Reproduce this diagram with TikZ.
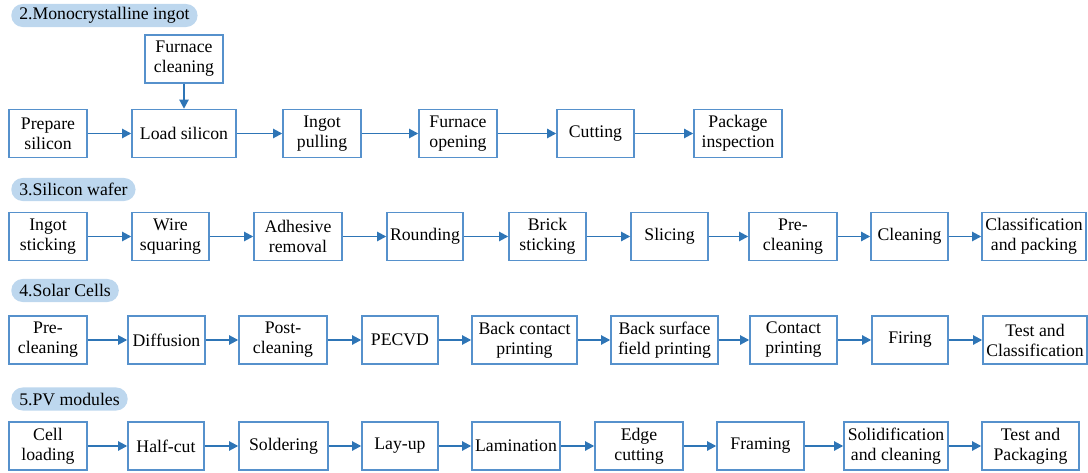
\documentclass[tikz,border=0pt]{standalone}
\usepackage{fontspec}
\setmainfont{Liberation Serif}
\usetikzlibrary{arrows.meta}
\definecolor{boxblue}{RGB}{86,145,204}
\definecolor{arrowblue}{RGB}{46,117,182}
\definecolor{pillblue}{RGB}{189,215,238}
\begin{document}
\begin{tikzpicture}[x=0.025cm,y=-0.025cm,
    font=\fontsize{12.6}{14.2}\selectfont,
    box/.style={draw=boxblue, line width=1pt, minimum height=1.2cm, minimum width=#1*0.25mm, align=center, inner sep=1pt},
    tag/.style={fill=pillblue, rounded corners=2.85mm, minimum height=5.75mm, inner xsep=2mm, inner ysep=0pt, anchor=west},
    flow/.style={-{Triangle[length=2.3mm,width=2.3mm]}, arrowblue, line width=1.4pt}]
    \useasboundingbox (0,0) rectangle (1088,473);

    \node[tag] (ingot) at (11,15.5) {2.Monocrystalline ingot};
    \node[box=78] (fclean) at (184,59) {Furnace\\cleaning};
    \node[box=78] (prep) at (48,133.5) {Prepare\\silicon};
    \node[box=104] (load) at (184,133.5) {Load silicon};
    \node[box=78] (pull) at (322,133.5) {Ingot\\pulling};
    \node[box=78] (fopen) at (458,133.5) {Furnace\\opening};
    \node[box=77] (cut) at (595.5,133.5) {Cutting};
    \node[box=88] (pinsp) at (738,133.5) {Package\\inspection};
    \draw[flow] (fclean) -- (load);
    \draw[flow] (prep) -- (load);
    \draw[flow] (load) -- (pull);
    \draw[flow] (pull) -- (fopen);
    \draw[flow] (fopen) -- (cut);
    \draw[flow] (cut) -- (pinsp);

    \node[tag] (wafer) at (11,189.5) {3.Silicon wafer};
    \node[box=78] (stick) at (48,236.5) {Ingot\\sticking};
    \node[box=77] (wire) at (170.5,236.5) {Wire\\squaring};
    \node[box=88] (adh) at (298,236.5) {Adhesive\\removal};
    \node[box=76] (round) at (425,236.5) {Rounding};
    \node[box=77] (brick) at (547.5,236.5) {Brick\\sticking};
    \node[box=77] (slice) at (669.5,236.5) {Slicing};
    \node[box=88] (wpre) at (793,236.5) {Pre-\\cleaning};
    \node[box=77] (wclean) at (909.5,236.5) {Cleaning};
    \node[box=104] (classp) at (1034,236.5) {Classification\\and packing};
    \draw[flow] (stick) -- (wire);
    \draw[flow] (wire) -- (adh);
    \draw[flow] (adh) -- (round);
    \draw[flow] (round) -- (brick);
    \draw[flow] (brick) -- (slice);
    \draw[flow] (slice) -- (wpre);
    \draw[flow] (wpre) -- (wclean);
    \draw[flow] (wclean) -- (classp);

    \node[tag] (cells) at (11,290.5) {4.Solar Cells};
    \node[box=78] (cpre) at (48,340) {Pre-\\cleaning};
    \node[box=77] (diff) at (166.5,340) {Diffusion};
    \node[box=88] (cpost) at (283,340) {Post-\\cleaning};
    \node[box=76] (pecvd) at (400,340) {PECVD};
    \node[box=105] (bcp) at (524.5,340) {Back contact\\printing};
    \node[box=107] (bsf) at (664.5,340) {Back surface\\field printing};
    \node[box=87] (cprint) at (793.5,340) {Contact\\printing};
    \node[box=76] (fire) at (910,340) {Firing};
    \node[box=104] (testc) at (1035,340) {Test and\\Classification};
    \draw[flow] (cpre) -- (diff);
    \draw[flow] (diff) -- (cpost);
    \draw[flow] (cpost) -- (pecvd);
    \draw[flow] (pecvd) -- (bcp);
    \draw[flow] (bcp) -- (bsf);
    \draw[flow] (bsf) -- (cprint);
    \draw[flow] (cprint) -- (fire);
    \draw[flow] (fire) -- (testc);

    \node[tag] (modules) at (11,399) {5.PV modules};
    \node[box=78] (cell) at (48,446) {Cell\\loading};
    \node[box=76] (half) at (166,446) {Half-cut};
    \node[box=89] (solder) at (283.5,446) {Soldering};
    \node[box=76] (layup) at (400,446) {Lay-up};
    \node[box=88] (lam) at (516,446) {Lamination};
    \node[box=88] (edge) at (639,446) {Edge\\cutting};
    \node[box=87] (frame) at (760.5,446) {Framing};
    \node[box=104] (solid) at (896,446) {Solidification\\and cleaning};
    \node[box=97] (testp) at (1030.5,446) {Test and\\Packaging};
    \draw[flow] (cell) -- (half);
    \draw[flow] (half) -- (solder);
    \draw[flow] (solder) -- (layup);
    \draw[flow] (layup) -- (lam);
    \draw[flow] (lam) -- (edge);
    \draw[flow] (edge) -- (frame);
    \draw[flow] (frame) -- (solid);
    \draw[flow] (solid) -- (testp);
\end{tikzpicture}
\end{document}
